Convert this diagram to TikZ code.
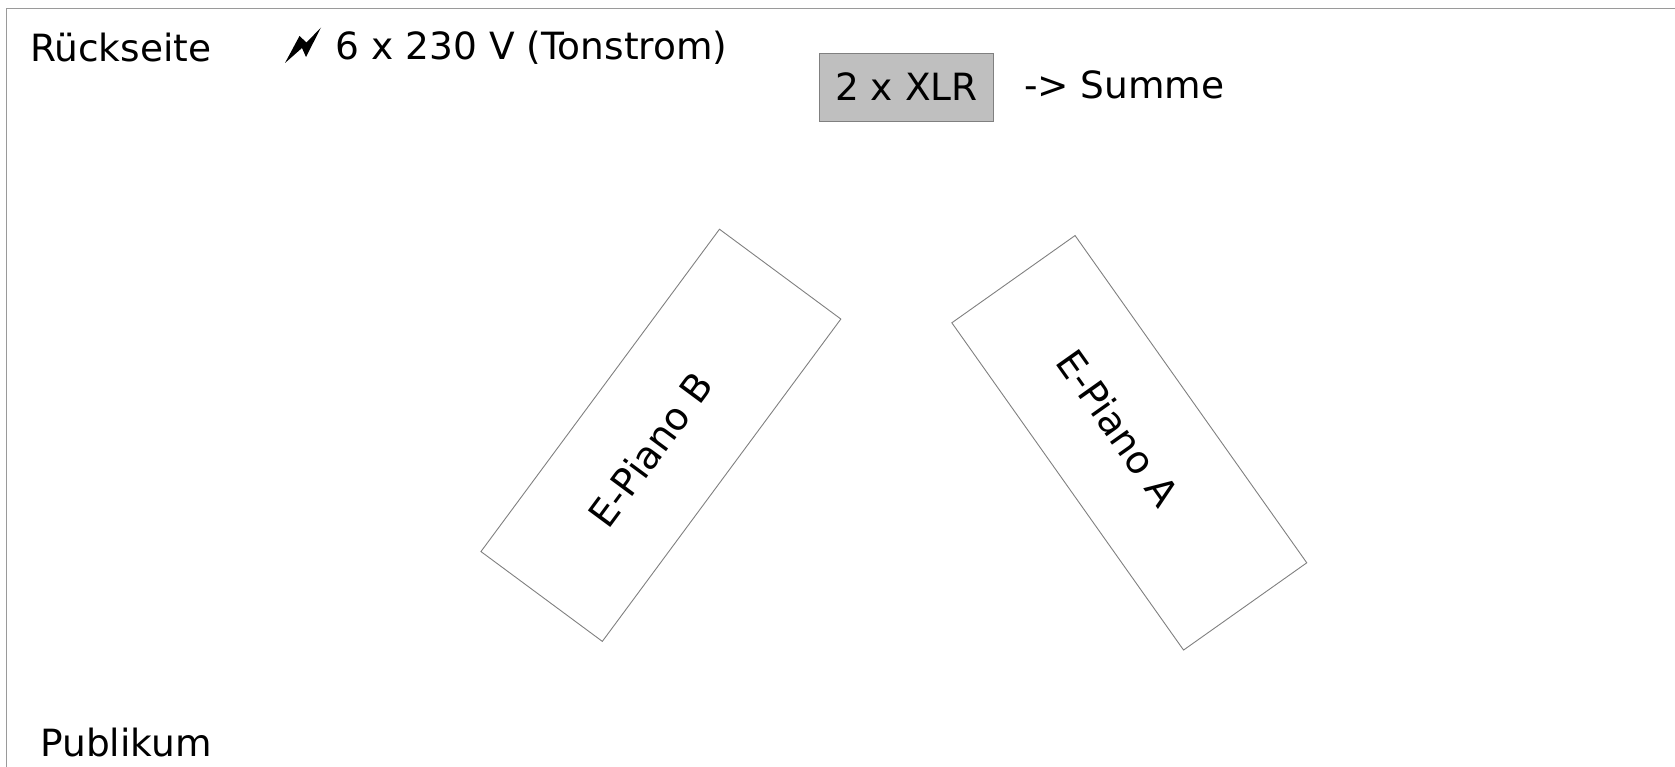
\documentclass[tikz,border=0pt]{standalone}
\usepackage{fontspec}
\setmainfont{DejaVu Sans}
\definecolor{framegray}{HTML}{9A9A9A}
\definecolor{boxgray}{HTML}{808080}
\definecolor{xlrfill}{HTML}{BFBFBF}
\tikzset{
  lab/.style={font=\fontsize{37.5pt}{41pt}\selectfont, text=black, inner sep=0pt, outer sep=0pt},
  pianolab/.style={font=\fontsize{38.2pt}{42pt}\selectfont, text=black, inner sep=0pt, outer sep=0pt},
  piano/.style={draw=boxgray, line width=0.9pt, fill=white, minimum width=401pt, minimum height=151pt, inner sep=0pt},
  xlrbox/.style={draw=boxgray, line width=1pt, fill=xlrfill, minimum width=174.4pt, minimum height=68pt, inner sep=0pt}
}
\begin{document}
\begin{tikzpicture}[x=1pt,y=-1pt]
\useasboundingbox (0,0) rectangle (1675,767);
\coordinate (fbl) at (6.8,767);
\coordinate (ftl) at (6.8,8.5);
\coordinate (ftr) at (1675,8.5);
\draw[framegray, line width=1.3pt] (fbl) -- (ftl) -- (ftr);
\node[lab, anchor=base west] (rueck) at (30,61.8) {Rückseite};
\fill[black] (285,63) -- (299.5,36) -- (306.5,42.5) -- (321,27.5) -- (306,57) -- (302,48) -- cycle;
\node[lab, anchor=base west] (strom) at (335.7,59.8) {6 x 230 V (Tonstrom)};
\node[xlrbox] (xlr) at (906.5,87.3) {};
\node[lab, anchor=base] (xlrt) at (906.5,100.5) {2 x XLR};
\node[lab, anchor=base west] (summe) at (1024,98.8) {-> Summe};
\node[piano, rotate=53.5] (b) at (660.9,435.3) {};
\node[pianolab, rotate=53.5] (bt) at (650.5,449.5) {E-Piano B};
\node[piano, rotate=-54.7] (a) at (1129.3,442.8) {};
\node[pianolab, rotate=-54.7] (at) at (1118,428) {E-Piano A};
\node[lab, anchor=base west] (pub) at (40.3,756.3) {Publikum};
\end{tikzpicture}
\end{document}
